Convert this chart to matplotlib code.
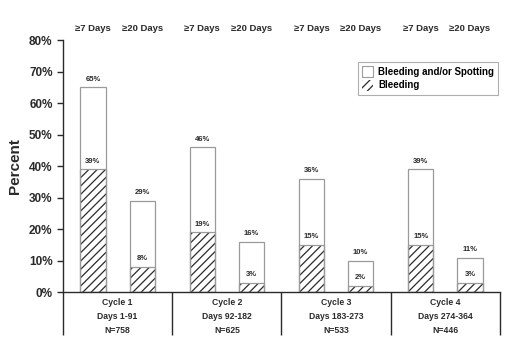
import numpy as np
import matplotlib
matplotlib.use("Agg")
import matplotlib.pyplot as plt
from matplotlib.patches import Patch
import matplotlib.transforms as mtransforms

plt.rcParams['font.family'] = ['Liberation Sans', 'DejaVu Sans']
plt.rcParams['font.weight'] = 'bold'
plt.rcParams['hatch.linewidth'] = 0.9

# data
cycles = ["Cycle 1", "Cycle 2", "Cycle 3", "Cycle 4"]
day_ranges = ["Days 1-91", "Days 92-182", "Days 183-273", "Days 274-364"]
n_values = ["N=758", "N=625", "N=533", "N=446"]
any_7 = [65, 46, 36, 39]      # bleeding and/or spotting, >=7 days
bleed_7 = [39, 19, 15, 15]    # bleeding, >=7 days
any_20 = [29, 16, 10, 11]     # bleeding and/or spotting, >=20 days
bleed_20 = [8, 3, 2, 3]       # bleeding, >=20 days
yticks = [0, 10, 20, 30, 40, 50, 60, 70, 80]

edge = '#9a9a9a'
dark = '#2a2a2a'
hatch = '////'

fig = plt.figure(figsize=(5.16, 3.55), dpi=100)
ax = fig.add_axes([0.122, 0.177, 0.847, 0.71])

x = np.arange(len(cycles))
off = 0.225
w = 0.23

for xs, tot, bl in [(x - off, any_7, bleed_7), (x + off, any_20, bleed_20)]:
    # hatched bleeding part
    ax.bar(xs, bl, w, color='white', edgecolor=dark, linewidth=0, hatch=hatch)
    # outlines
    ax.bar(xs, bl, w, fill=False, edgecolor=edge, linewidth=0.9)
    ax.bar(xs, tot, w, fill=False, edgecolor=edge, linewidth=0.9)
    for xi, t, b in zip(xs, tot, bl):
        ax.text(xi, t + 1.5, f"{t}%", ha='center', va='bottom', fontsize=5.5, color=dark)
        ax.text(xi, b + 1.5, f"{b}%", ha='center', va='bottom', fontsize=5.5, color=dark)

ax.set_xlim(-0.5, len(cycles) - 0.5)
ax.set_ylim(0, 80)
ax.set_yticks(yticks)
ax.set_yticklabels([f"{v}%" for v in yticks], fontsize=8.5, color=dark)
ax.set_xticks([])
ax.set_ylabel("Percent", fontsize=11, fontweight='bold', color=dark, labelpad=5)
ax.tick_params(axis='y', direction='out', length=4, width=1, color=dark)

for s in ['top', 'right']:
    ax.spines[s].set_visible(False)
for s in ['left', 'bottom']:
    ax.spines[s].set_color(dark)
    ax.spines[s].set_linewidth(1)

# header labels above the bars
trans = mtransforms.blended_transform_factory(ax.transData, ax.transAxes)
for xi in x:
    ax.text(xi - off, 1.048, "\u22657 Days", transform=trans, ha='center', va='center', fontsize=6.8, color=dark)
    ax.text(xi + off, 1.048, "\u226520 Days", transform=trans, ha='center', va='center', fontsize=6.8, color=dark)

# table below the axis
bounds = np.arange(len(cycles) + 1) - 0.5
ax.vlines(bounds, -0.17, 0, transform=trans, colors=dark, linewidth=1, clip_on=False)
for xi, c, d, n in zip(x, cycles, day_ranges, n_values):
    ax.text(xi, -0.04, c, transform=trans, ha='center', va='center', fontsize=6.2, color=dark)
    ax.text(xi, -0.097, d, transform=trans, ha='center', va='center', fontsize=6.2, color=dark)
    ax.text(xi, -0.152, n, transform=trans, ha='center', va='center', fontsize=6.2, color=dark)

handles = [Patch(facecolor='white', edgecolor=edge, linewidth=0.8, label='Bleeding and/or Spotting'),
           Patch(facecolor='white', edgecolor=dark, linewidth=0, hatch=hatch, label='Bleeding')]
leg = ax.legend(handles=handles, loc='upper right', bbox_to_anchor=(0.995, 0.913),
                borderaxespad=0, fancybox=False, edgecolor=edge, fontsize=7,
                handlelength=1.1, handleheight=1.4, handletextpad=0.5,
                labelspacing=0.25, borderpad=0.4)
leg.get_frame().set_linewidth(0.8)

fig.savefig("out.png", dpi=100)
